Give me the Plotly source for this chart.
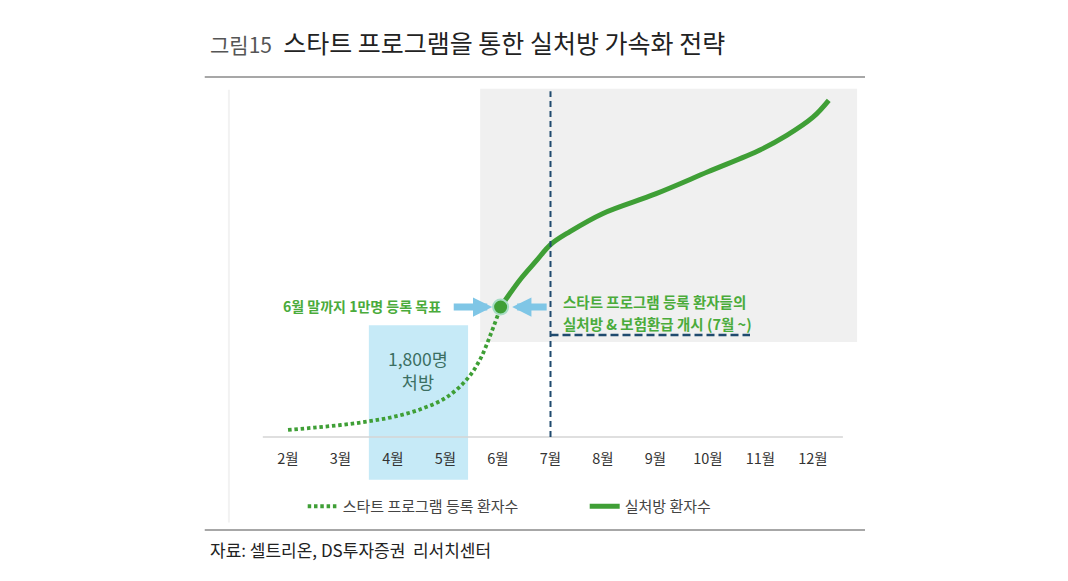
import plotly.graph_objects as go

# data (index units, 10 = 1만명 target)
months = [2, 3, 4, 5, 6, 7, 8, 9, 10, 11, 12]
month_labels = ["2월", "3월", "4월", "5월", "6월", "7월", "8월", "9월", "10월", "11월", "12월"]

start_x = [2, 2.5, 3, 3.5, 4, 4.5, 5, 5.4, 5.65, 5.87, 6.05]
start_y = [0.54, 0.72, 0.92, 1.18, 1.54, 2.1, 3.0, 4.4, 5.9, 8.0, 10.0]

rx_x = [6.05, 6.42, 6.74, 7.0, 7.37, 8, 9, 10, 11, 11.5, 12, 12.3]
rx_y = [10.0, 12.1, 13.6, 14.8, 15.8, 17.2, 18.7, 20.4, 22.1, 23.2, 24.6, 25.9]

target_x = [6.05]
target_y = [10.0]

GREEN = "#3f9f36"
GREEN_TXT = "#4aab3b"
NAVY = "#1f4a6e"
FONT = "Noto Sans CJK KR"

fig = go.Figure()

fig.add_trace(go.Scatter(
    x=start_x, y=start_y, mode="lines", line_shape="spline",
    line=dict(color=GREEN, width=3.8, dash="3.5px,2.8px"),
    name="스타트 프로그램 등록 환자수",
))
fig.add_trace(go.Scatter(
    x=rx_x, y=rx_y, mode="lines", line_shape="spline",
    line=dict(color=GREEN, width=5),
    name="실처방 환자수",
))
fig.add_trace(go.Scatter(
    x=target_x, y=target_y, mode="markers",
    marker=dict(color=GREEN, size=15, line=dict(color="#a6dcc4", width=2)),
    showlegend=False,
))

# background boxes
fig.add_shape(type="rect", x0=5.66, x1=12.84, y0=7.3, y1=26.8,
              fillcolor="#f0f0f0", line=dict(width=0), layer="below")
fig.add_shape(type="rect", x0=3.54, x1=5.43, y0=-3.3, y1=8.6,
              fillcolor="#c6eaf7", line=dict(width=0), layer="below")
# axis baseline
fig.add_shape(type="line", x0=1.52, x1=12.57, y0=0, y1=0,
              line=dict(color="#d4d4d4", width=1.5), layer="below")
# July start lines
fig.add_shape(type="line", x0=7, x1=7, y0=0, y1=26.6,
              line=dict(color=NAVY, width=2, dash="6px,4px"))
fig.add_shape(type="line", x0=7, x1=10.8, y0=7.85, y1=7.85,
              line=dict(color=NAVY, width=2.5, dash="8px,4px"))

# arrows toward the target dot
fig.add_annotation(x=5.89, y=10, ax=-40, ay=0, text="", showarrow=True,
                   arrowhead=2, arrowsize=0.55, arrowwidth=7, arrowcolor="#7fc6e6")
fig.add_annotation(x=6.27, y=10, ax=36, ay=0, text="", showarrow=True,
                   arrowhead=2, arrowsize=0.55, arrowwidth=7, arrowcolor="#7fc6e6")

fig.add_annotation(x=4.95, y=10.1, text="<b>6월 말까지 1만명 등록 목표</b>", showarrow=False,
                   xanchor="right", font=dict(family=FONT, size=14, color=GREEN_TXT))
fig.add_annotation(x=7.2, y=10.4, text="<b>스타트 프로그램 등록 환자들의</b>",
                   showarrow=False, xanchor="left", yanchor="middle",
                   font=dict(family=FONT, size=14.5, color=GREEN_TXT))
fig.add_annotation(x=7.2, y=8.7, text="<b>실처방 &amp; 보험환급 개시 (7월 ~)</b>",
                   showarrow=False, xanchor="left", yanchor="middle",
                   font=dict(family=FONT, size=14.5, color=GREEN_TXT))
fig.add_annotation(x=4.48, y=5.15, text="1,800명<br>처방", showarrow=False,
                   font=dict(family=FONT, size=17.5, color="#3b6f62"))

# title, rules and source
fig.add_annotation(xref="paper", yref="paper", x=-0.068, y=1.105, xanchor="left", yanchor="middle",
                   text="<span style='font-size:21px;color:#555'>그림15</span>  스타트 프로그램을 통한 실처방 가속화 전략",
                   showarrow=False, font=dict(family=FONT, size=25, color="#222"))
fig.add_shape(type="line", xref="paper", yref="paper", x0=-0.073, x1=0.992, y0=1.02, y1=1.02,
              line=dict(color="#8a8a8a", width=1.5))
fig.add_shape(type="line", xref="paper", yref="paper", x0=-0.034, x1=-0.034, y0=0.988, y1=-0.08,
              line=dict(color="#f2f2f2", width=2), layer="below")
fig.add_shape(type="line", xref="paper", yref="paper", x0=-0.073, x1=0.992, y0=-0.099, y1=-0.099,
              line=dict(color="#8a8a8a", width=1.5))
fig.add_annotation(xref="paper", yref="paper", x=-0.068, y=-0.146, xanchor="left", yanchor="middle",
                   text="자료: 셀트리온, DS투자증권  리서치센터", showarrow=False,
                   font=dict(family=FONT, size=17, color="#222"))

fig.update_layout(
    width=1068, height=581,
    margin=dict(l=242, r=206, t=77, b=99),
    paper_bgcolor="white", plot_bgcolor="white",
    showlegend=True,
    legend=dict(orientation="h", x=0.085, y=-0.0, xanchor="left", yanchor="top",
                entrywidth=237, font=dict(family=FONT, size=15, color="#444"),
                bgcolor="rgba(0,0,0,0)"),
    xaxis=dict(range=[1.276, 13.086], tickmode="array", tickvals=months, ticktext=month_labels,
               showgrid=False, zeroline=False, showline=False,
               anchor="free", position=0.1309, ticks="outside", ticklen=9, tickcolor="rgba(0,0,0,0)",
               tickfont=dict(family=FONT, size=14.5, color="#333")),
    yaxis=dict(range=[-4.08, 27.08], visible=False),
)

fig.write_html("out.html")
